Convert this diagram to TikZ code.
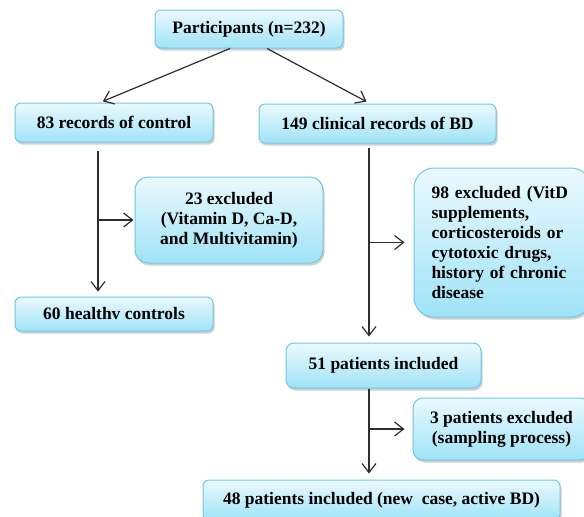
\documentclass[tikz,border=0pt]{standalone}
\usepackage{fontspec}
\setmainfont{Liberation Serif}
\usetikzlibrary{arrows.meta,shadows}
\definecolor{boxtop}{HTML}{EBF9FE}
\definecolor{boxbot}{HTML}{9FE3F7}
\definecolor{boxline}{HTML}{72C6E2}
\definecolor{linecol}{HTML}{2E2E2E}
\tikzset{
  box/.style={draw=boxline, line width=1pt, rounded corners=6pt,
    top color=boxtop, bottom color=boxbot, inner sep=0pt,
    drop shadow={shadow xshift=1.5pt, shadow yshift=-2.5pt, opacity=0.3, fill=black!60},
    font=\bfseries\fontsize{17.5}{20}\selectfont, text=black, align=center},
  arr/.style={-{Straight Barb[length=9pt,width=14pt]}, line width=1.2pt, color=linecol}
}
\begin{document}
\begin{tikzpicture}[x=1pt,y=-1pt]
    \useasboundingbox[fill=white] (0,0) rectangle (584,517);

    % Knoten
    \node[box, minimum width=188pt, minimum height=38pt] (part) at (249,29) {Participants (n=232)};
    \node[box, minimum width=198pt, minimum height=39pt] (ctrl) at (114,122.5) {83 records of control};
    \node[box, minimum width=237pt, minimum height=39pt] (bd) at (377.5,123.5) {149 clinical records of BD};
    \node[box, minimum width=188pt, minimum height=86pt, rounded corners=13pt] (exca) at (229,220)
        {23 excluded\\(Vitamin D, Ca-D,\\and Multivitamin)};
    \node[box, minimum width=198pt, minimum height=34pt] (healthy) at (114,314) {60 healthv controls};
    \node[box, minimum width=177pt, minimum height=149pt, rounded corners=20pt, text width=142pt, align=left] (excb) at (502.5,242.5)
        {98 excluded (VitD\\supplements,\\corticosteroids or\\cytotoxic drugs,\\history of chronic\\disease};
    \node[box, minimum width=195pt, minimum height=45pt, rounded corners=8pt] (pinc) at (383.5,365.5) {51 patients included};
    \node[box, minimum width=177pt, minimum height=62pt, rounded corners=10pt] (excc) at (501.5,429)
        {3 patients excluded\\(sampling process)};
    \node[box, minimum width=357pt, minimum height=40pt] (pfin) at (381.5,500) {48 patients included (new\ \ case, active BD)};

    % Pfeile
    \coordinate (lx) at (98,0);
    \coordinate (rx) at (369,0);
    \draw[arr, shorten >=3pt] ([xshift=-19pt]part.south) -- ([xshift=-14pt]ctrl.north);
    \draw[arr, shorten >=4pt] ([xshift=18pt]part.south) -- ([xshift=-7.5pt]bd.north);
    \draw[arr, shorten <=8pt, shorten >=5pt] (lx |- ctrl.south) -- (lx |- healthy.north);
    \draw[arr, shorten >=1pt] (lx |- exca.west) -- (exca.west);
    \draw[arr, shorten <=4pt, shorten >=6pt] (rx |- bd.south) -- (rx |- pinc.north);
    \draw[arr, shorten >=9pt] (rx |- excb.west) -- (excb.west);
    \draw[arr, shorten >=6pt] (rx |- pinc.south) -- (rx |- pfin.north);
    \draw[arr, shorten >=8pt] (rx |- excc.west) -- (excc.west);

\end{tikzpicture}
\end{document}
